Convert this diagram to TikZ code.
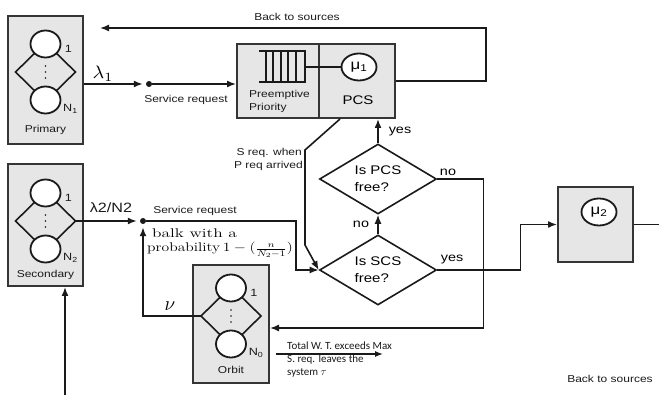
\documentclass[tikz,border=0pt]{standalone}
\usepackage{fontspec}
\usepackage{graphicx}
\usetikzlibrary{shapes.geometric,arrows.meta,calc}
\newfontfamily\lab{Liberation Sans}[FakeStretch=1.2]
\newfontfamily\notefont{Carlito}
\definecolor{boxfill}{HTML}{E6E6E6}
\definecolor{boxline}{HTML}{353535}
\definecolor{ink}{HTML}{1A1A1A}

% a group of parallel servers: two circles joined in a diamond, with dots between
\newcommand\srvset[5]{% #1 name, #2 cx, #3 cy, #4 upper label, #5 lower label
  \begin{scope}[shift={(#2,#3)}]
    \coordinate (#1-l) at (-30,0);
    \coordinate (#1-r) at (30,0);
    \draw[wire] (-10.6,-19) -- (-30,0) -- (-10.6,19)
                (10.6,-19) -- (30,0) -- (10.6,19);
    \draw[srv] (0,-28) ellipse [x radius=15pt, y radius=13.5pt];
    \draw[srv] (0,28) ellipse [x radius=15pt, y radius=13.5pt];
    \foreach \yy in {-6,0,6} \fill[ink] (0,\yy) circle (0.9pt);
    \node[small] at (23,-23) {#4};
    \node[small] at (25,37) {#5};
  \end{scope}}

\begin{document}
\begin{tikzpicture}[x=1pt,y=-1pt,
  wire/.style={draw=ink, line width=1.6pt},
  arr/.style={wire, -{Latex[length=9pt,width=7pt]}},
  grp/.style={draw=boxline, fill=boxfill, line width=2pt, inner sep=0pt},
  srv/.style={draw=ink, fill=white, line width=1.8pt},
  dec/.style={diamond, draw=ink, line width=1.6pt, inner sep=0pt,
    minimum width=117pt, minimum height=70pt, aspect=1.67, align=left,
    font=\lab\fontsize{12.5}{17}\selectfont},
  lbl/.style={font=\lab\fontsize{10}{13}\selectfont, inner sep=0pt, text=ink},
  small/.style={font=\lab\fontsize{10.5}{11}\selectfont, inner sep=0pt, text=ink},
  note/.style={font=\notefont\fontsize{11}{13}\selectfont, inner sep=0pt, text=ink, anchor=west},
  junction/.style={circle, fill=ink, inner sep=0pt, minimum size=6pt},
  musrv/.style={srv, ellipse, minimum width=35pt, minimum height=27pt, inner sep=0pt,
    font=\lab\fontsize{14}{14}\selectfont},
]
\useasboundingbox (0,0) rectangle (659,395);

% ---- boxes ----
\node[grp, minimum width=75pt, minimum height=128pt] (prim) at (45.5,80) {};
\node[grp, minimum width=75pt, minimum height=122pt] (sec) at (45.5,225) {};
\node[grp, minimum width=76pt, minimum height=118pt] (orb) at (231,324) {};
\node[grp, minimum width=158pt, minimum height=74pt] (pcs) at (316,81) {};
\node[grp, minimum width=75pt, minimum height=75pt] (srv2) at (595.5,224.5) {};

% ---- server groups ----
\srvset{pg}{45.5}{72}{1}{N\textsubscript{1}}
\srvset{sg}{45.5}{221}{1}{N\textsubscript{2}}
\srvset{og}{231}{316}{1}{N\textsubscript{0}}
\node[lbl] at (45.5,130) {Primary};
\node[lbl] at (45.5,275) {Secondary};
\node[lbl] at (231,370) {Orbit};

% ---- primary channel station: queue and server ----
\draw[draw=boxline, line width=2pt] (319,44) -- (319,118);
\draw[wire, line width=1.4pt] (259,51) -- (305,51) -- (305,82) -- (259,82);
\foreach \xx in {266,273,281,288,296} \draw[wire, line width=1.4pt] (\xx,51) -- (\xx,82);
\node[musrv] (mu1) at (359,67) {μ\textsubscript{1}};
\draw[wire] (305,67) -- (mu1.west);
\node[lbl, anchor=west, align=left] at (249,101.5) {Preemptive\\Priority};
\node[font=\lab\fontsize{12.5}{14}\selectfont, inner sep=0pt] at (358,100) {PCS};

% ---- secondary channel server ----
\node[musrv] (mu2) at (599,212) {μ\textsubscript{2}};

% ---- decisions ----
\node[dec] (pcsq) at (378,179) {Is PCS\\free?};
\node[dec] (scsq) at (378,270) {Is SCS\\free?};

% ---- junctions ----
\node[junction] (d1) at (149,84) {};
\node[junction] (d2) at (143,221) {};

% ---- connectors ----
\coordinate (back1) at (100,28);
\coordinate (src2) at (65,395);
\coordinate (tw1) at (276,354);
\coordinate (tw2) at (383,354);

\draw[arr, shorten >=3pt] (prim.east |- d1) -- (d1);
\draw[arr] (d1) -- (pcs.west |- d1);
\draw[arr] (pcs.east) -- ++(90,0) |- (back1);
\draw[arr] ([xshift=24pt]pcs.south) -- (305,150) -- (305,245) -- (scsq.west);
\draw[arr] (pcsq.north) -- (pcsq.north |- pcs.south);
\draw[arr] (scsq.north) -- (pcsq.south);
\draw[arr] (pcsq.east) -- ++(46,0) |- ([yshift=-4pt]orb.east);
\draw[arr] (scsq.east) -- ++(83,0) |- (srv2.west);
\draw[wire] (srv2.east) -- ++(26,0);
\draw[arr] (src2) -- (src2 |- sec.south);
\draw[arr, shorten >=3pt] (sg-r) -- (d2);
\draw[arr] (d2) -- ++(153,0) |- (scsq.west);
\draw[arr, shorten >=3pt] (og-l) -- (og-l -| d2) -- (d2);
\draw[wire, line width=1.3pt, -{Latex[length=8pt,width=6pt]}] (tw1) -- (tw2);

% ---- labels ----
\node[lbl] at (297,17) {Back to sources};
\node[lbl] at (610,379) {Back to sources};
\node[inner sep=0pt] at (103,74) {\scalebox{2.0}[1.8]{$\lambda_1$}};
\node[lbl] at (186,100) {Service request};
\node[font=\lab\fontsize{13.5}{15}\selectfont, inner sep=0pt, text=ink] at (111,208) {λ2/N2};
\node[lbl] at (195,211) {Service request};
\node[inner sep=0pt, anchor=west] at (152,233) {\scalebox{1.45}[1.05]{\fontsize{12}{14}\selectfont balk with a}};
\node[inner sep=0pt, anchor=west] at (147,250) {\scalebox{1.3}[1.05]{\fontsize{12}{14}\selectfont probability$\,1-(\frac{n}{N_2-1})$}};
\node[inner sep=0pt] at (170,306) {\scalebox{1.9}[2]{$\nu$}};
\node[lbl, anchor=east] at (302,153) {S req. when};
\node[lbl, anchor=east] at (303,166) {P req arrived};
\node[font=\lab\fontsize{12}{14}\selectfont, inner sep=0pt] at (400,132) {yes};
\node[font=\lab\fontsize{12}{14}\selectfont, inner sep=0pt] at (361,224) {no};
\node[font=\lab\fontsize{12}{14}\selectfont, inner sep=0pt] at (448,172) {no};
\node[font=\lab\fontsize{12}{14}\selectfont, inner sep=0pt] at (452,260) {yes};
\node[note] at (287,346) {Total W. T. exceeds Max};
\node[note] at (287,360) {S. req. leaves the};
\node[note] at (287,373) {system $\tau$};
\end{tikzpicture}
\end{document}
